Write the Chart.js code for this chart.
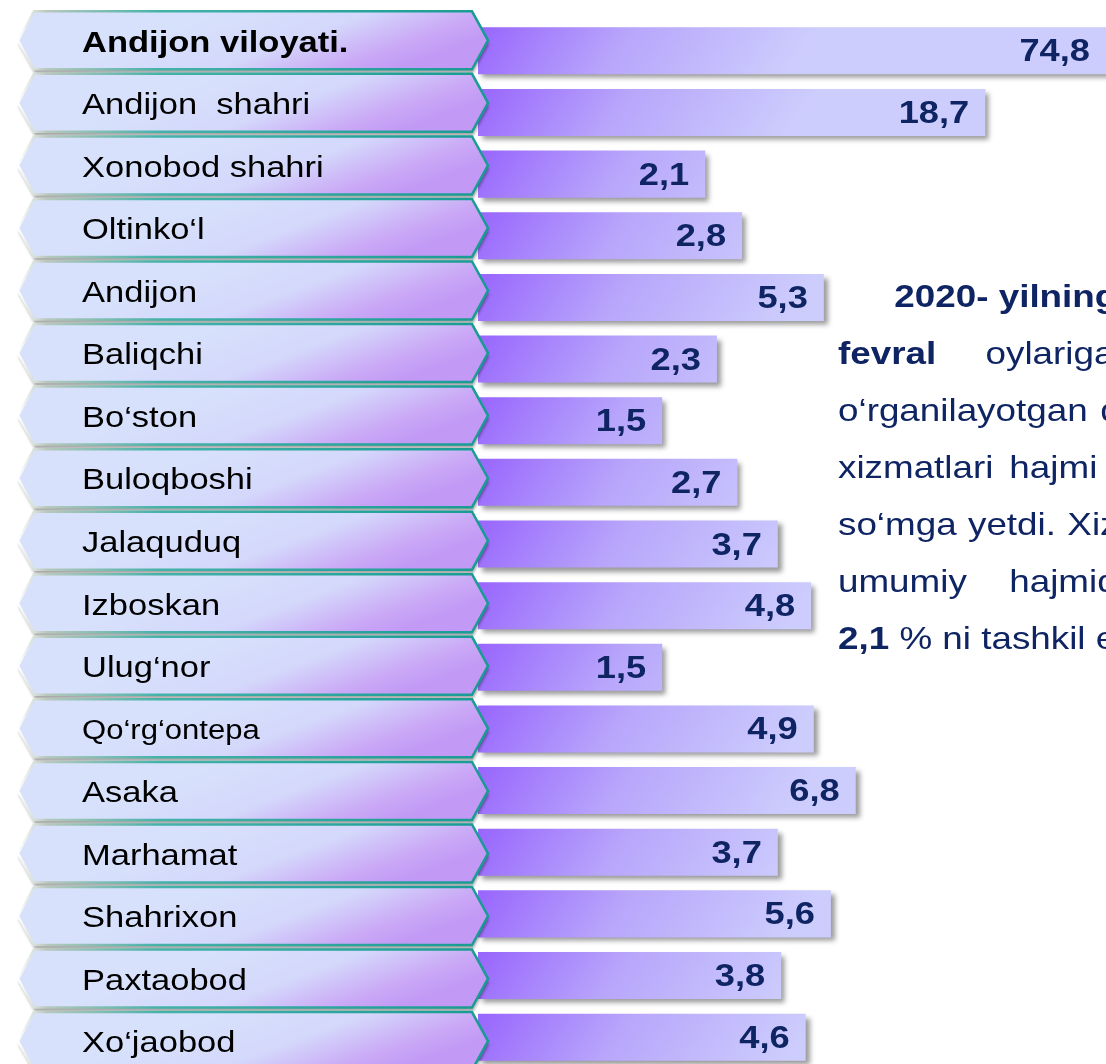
<!DOCTYPE html>
<html>
<head>
<meta charset="utf-8">
<script src="https://cdn.jsdelivr.net/npm/chart.js@4.4.1/dist/chart.umd.min.js"></script>
<style>
  html, body { margin: 0; padding: 0; background: #fff; overflow: hidden; }
  #wrap { position: relative; width: 1106px; height: 1064px; overflow: hidden; }
  #chart { position: absolute; left: 0; top: 0; }
  #note {
    position: absolute; left: 838px; top: 268px; width: 600px;
    font-family: "Liberation Sans", Arial, sans-serif; font-size: 32px;
    line-height: 57px; color: #0f2463; white-space: nowrap;
    transform: scaleX(1.15); transform-origin: 0 0;
  }
</style>
</head>
<body>
<div id="wrap">
  <canvas id="chart" width="1106" height="1068"></canvas>
  <div id="note">
    <div style="padding-left:49px"><b>2020- yilning</b></div>
    <div style="word-spacing:34px"><b>fevral</b> oylariga</div>
    <div style="word-spacing:2px">o‘rganilayotgan davrda</div>
    <div style="word-spacing:5px">xizmatlari hajmi</div>
    <div style="word-spacing:1px">so‘mga yetdi. Xizmatlar</div>
    <div style="word-spacing:28px">umumiy hajmida</div>
    <div><b>2,1</b> % ni tashkil etdi.</div>
  </div>
</div>
<script>
  'use strict'

  // Data
  const categories = ['Andijon viloyati.', 'Andijon  shahri', 'Xonobod shahri', 'Oltinko‘l', 'Andijon',
    'Baliqchi', 'Bo‘ston', 'Buloqboshi', 'Jalaquduq', 'Izboskan', 'Ulug‘nor', 'Qo‘rg‘ontepa',
    'Asaka', 'Marhamat', 'Shahrixon', 'Paxtaobod', 'Xo‘jaobod'];
  const values = [74.8, 18.7, 2.1, 2.8, 5.3, 2.3, 1.5, 2.7, 3.7, 4.8, 1.5, 4.9, 6.8, 3.7, 5.6, 3.8, 4.6];
  const valueLabels = values.map(v => v.toFixed(1).replace('.', ','));

  const BAR_PCT = 0.763;
  const NAVY = '#0f2463';
  const FONT = '"Liberation Sans", Arial, sans-serif';
  const STRETCH = 1.15; // the source picture is a little wider than tall

  // Bar fill: violet at the bar start fading to lavender
  function barFill(c) {
    const { chart } = c;
    const xs = chart.scales.x, ys = chart.scales.y;
    if (c.type !== 'data' || !xs || !ys) return '#b8a8fb';
    const x0 = xs.getPixelForValue(xs.min);
    const yc = ys.getPixelForValue(c.dataIndex);
    const half = ys.height / categories.length * BAR_PCT / 2;
    if (![x0, yc, half].every(Number.isFinite)) return '#b8a8fb';
    const g = chart.ctx.createLinearGradient(x0, yc - half, x0 + 240, yc + half + 110);
    g.addColorStop(0, '#9865fd');
    g.addColorStop(0.45, '#b8a6fb');
    g.addColorStop(1, '#cdcdfd');
    return g;
  }

  // Drop shadow under the bars
  const barShadow = {
    id: 'barShadow',
    beforeDatasetDraw(chart) {
      const ctx = chart.ctx;
      ctx.save();
      ctx.shadowColor = 'rgba(0,0,0,0.4)';
      ctx.shadowBlur = 5;
      ctx.shadowOffsetX = 4;
      ctx.shadowOffsetY = 4;
    },
    afterDatasetDraw(chart) {
      chart.ctx.restore();
    }
  };

  function arrowPath(ctx, yc) {
    ctx.beginPath();
    ctx.moveTo(18, yc);
    ctx.lineTo(34, yc - 29);
    ctx.lineTo(472, yc - 29);
    ctx.lineTo(488, yc);
    ctx.lineTo(472, yc + 29);
    ctx.lineTo(34, yc + 29);
    ctx.closePath();
  }

  // Category labels in arrow boxes, and value labels at the bar ends
  const labelsPlugin = {
    id: 'labelsPlugin',
    afterDatasetsDraw(chart) {
      const ctx = chart.ctx;
      const ys = chart.scales.y;
      const area = chart.chartArea;

      categories.forEach((cat, i) => {
        const yc = ys.getPixelForValue(i) - 10.5 + 0.9 * i;
        ctx.save();
        const fill = ctx.createLinearGradient(250, yc - 39, 290, yc + 69);
        fill.addColorStop(0, '#d7e1fb');
        fill.addColorStop(0.45, '#d4d8fb');
        fill.addColorStop(0.8, '#caa9f6');
        fill.addColorStop(1, '#c299f5');
        arrowPath(ctx, yc);
        ctx.shadowColor = 'rgba(0,0,0,0.35)';
        ctx.shadowBlur = 3;
        ctx.shadowOffsetX = 1;
        ctx.shadowOffsetY = 4;
        ctx.fillStyle = fill;
        ctx.fill();
        ctx.shadowColor = 'transparent';
        const edge = ctx.createLinearGradient(18, 0, 488, 0);
        edge.addColorStop(0, '#ffffff');
        edge.addColorStop(0.06, '#b9c8bd');
        edge.addColorStop(0.3, '#45b2a9');
        edge.addColorStop(1, '#179b93');
        ctx.lineWidth = 2.5;
        ctx.strokeStyle = edge;
        ctx.stroke();

        ctx.translate(82, yc + 3);
        ctx.scale(STRETCH, 1);
        ctx.fillStyle = '#000';
        ctx.textBaseline = 'middle';
        ctx.font = (i === 0 ? 'bold ' : '') + (cat === 'Qo‘rg‘ontepa' ? '27px ' : '30px ') + FONT;
        ctx.fillText(cat, 0, 0);
        ctx.restore();
      });

      const meta = chart.getDatasetMeta(0);
      meta.data.forEach((bar, i) => {
        const right = Math.min(bar.x, area.right) - 16;
        ctx.save();
        ctx.translate(right, bar.y + 2);
        ctx.scale(1.17, 1);
        ctx.font = 'bold 31px ' + FONT;
        ctx.fillStyle = NAVY;
        ctx.textAlign = 'right';
        ctx.textBaseline = 'middle';
        ctx.fillText(valueLabels[i], 0, 0);
        ctx.restore();
      });
    }
  };

  new Chart(document.getElementById('chart'), {
    type: 'bar',
    data: {
      labels: categories,
      datasets: [{
        data: values,
        backgroundColor: barFill,
        borderWidth: 0,
        categoryPercentage: 1,
        barPercentage: BAR_PCT
      }]
    },
    options: {
      indexAxis: 'y',
      responsive: false,
      animation: false,
      devicePixelRatio: 1,
      events: [],
      layout: { padding: { left: 478, top: 20, right: 0, bottom: 0 } },
      scales: {
        x: { type: 'logarithmic', min: 0.356, max: 48, display: false, grid: { display: false } },
        y: { type: 'category', display: false, grid: { display: false } }
      },
      plugins: {
        legend: { display: false },
        tooltip: { enabled: false }
      }
    },
    plugins: [barShadow, labelsPlugin]
  });
</script>
</body>
</html>
